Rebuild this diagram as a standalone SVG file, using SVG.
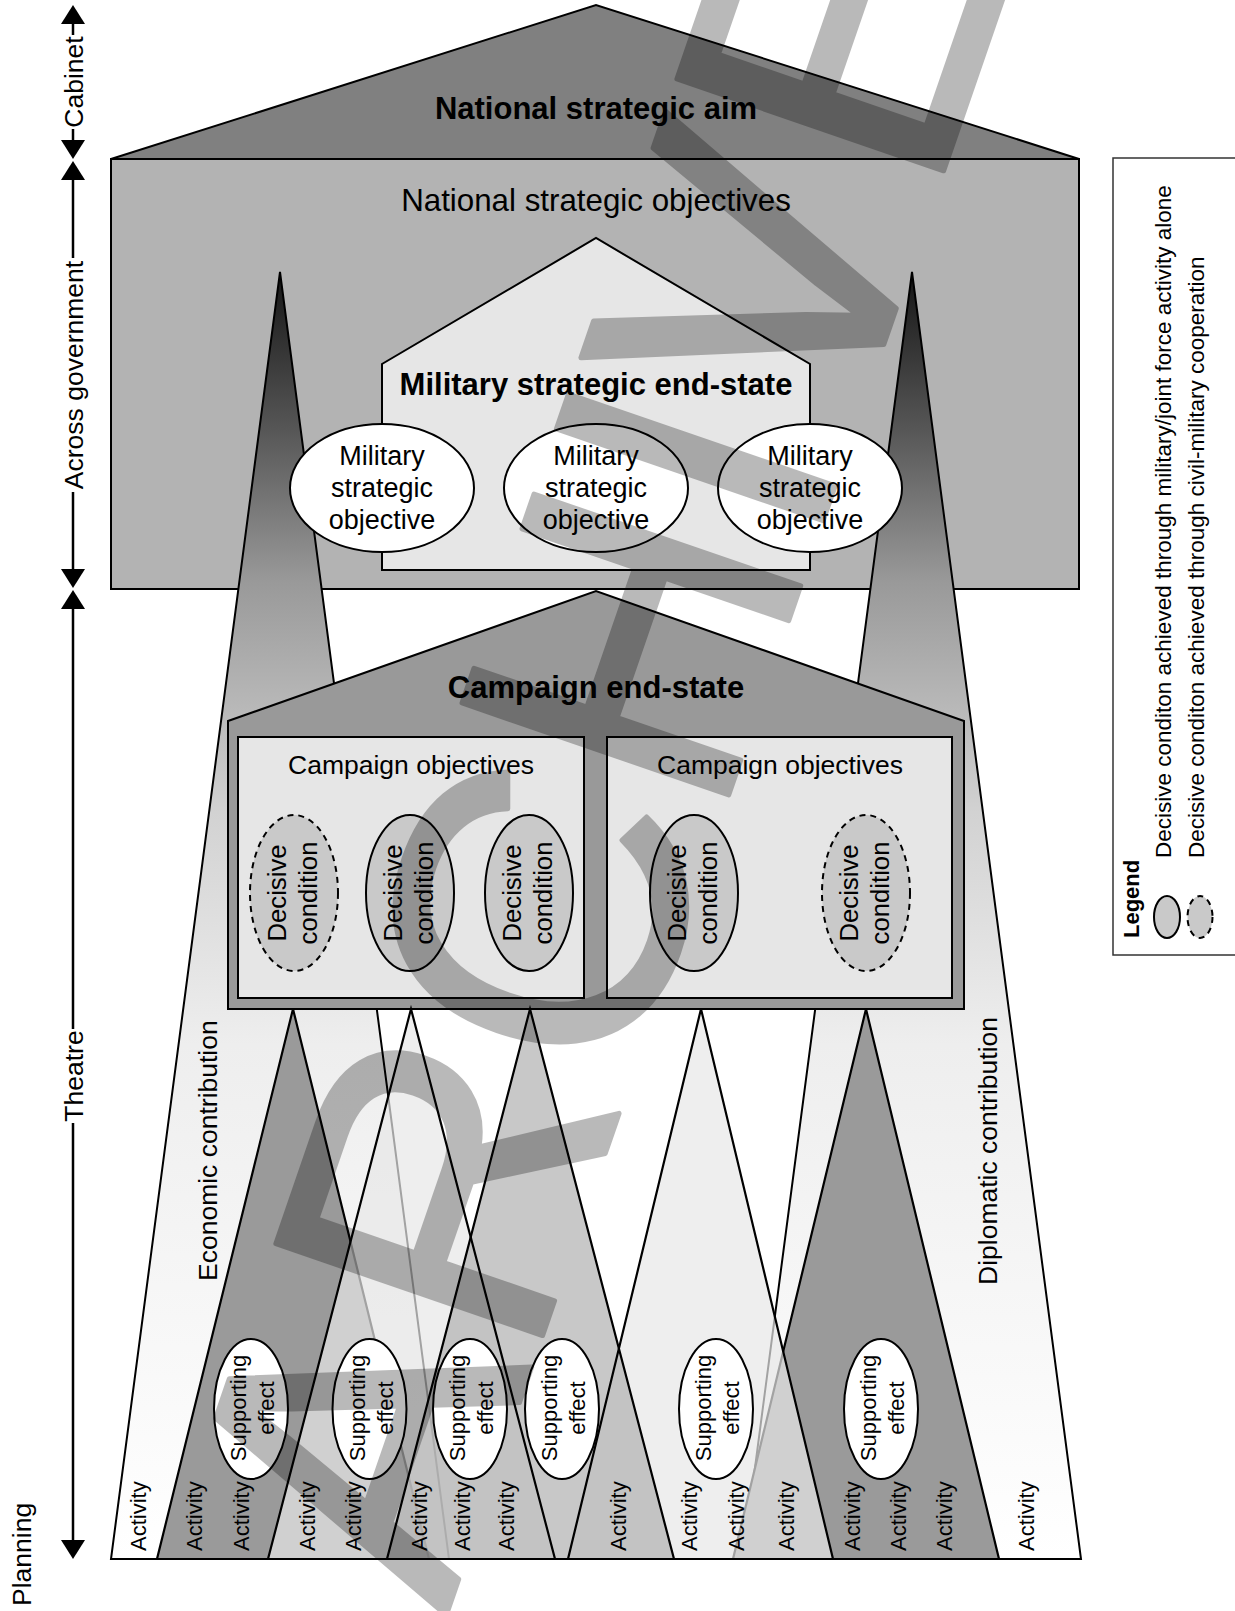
<svg xmlns="http://www.w3.org/2000/svg" width="1235" height="1611" viewBox="0 0 1235 1611">
<defs>
<style>
.t{font-family:"Liberation Sans",Arial,Helvetica,sans-serif;fill:#000}
.b{font-weight:bold}
.s{stroke:#000;stroke-width:2;stroke-linejoin:miter}
.ax{stroke:#000;stroke-width:2.5;fill:none}
.ah{fill:#000}
.w{fill:#fff}
.dc{fill:#c9c9c9;stroke:#000;stroke-width:2}
.dd{fill:#c9c9c9;stroke:#000;stroke-width:2;stroke-dasharray:6,5}
.a{font-size:22px}
.se{font-size:22px}
.d{font-size:25.7px}
.lab{font-size:26.5px}
.tri{stroke:#000;stroke-width:2.2}
.dark{fill:#9a9a9a}
.lite{fill:#e7e7e7;fill-opacity:0.7}
.mid{fill:#b0b0b0;fill-opacity:0.7}
.no{fill:none}
</style>
<linearGradient id="spk" gradientUnits="userSpaceOnUse" x1="0" y1="272" x2="0" y2="1559">
<stop offset="0" stop-color="#151515"/>
<stop offset="0.12" stop-color="#555555"/>
<stop offset="0.24" stop-color="#999999"/>
<stop offset="0.42" stop-color="#d2d2d2"/>
<stop offset="0.6" stop-color="#eeeeee"/>
<stop offset="1" stop-color="#ffffff"/>
</linearGradient>
</defs>
<rect x="0" y="0" width="1235" height="1611" fill="#fff"/>

<g id="national-house">
<polygon class="s" fill="#808080" points="111,159 596,5 1079,159"/>
<rect class="s" fill="#b3b3b3" x="111" y="159" width="968" height="430"/>
<text class="t b" x="596" y="119" font-size="31" text-anchor="middle">National strategic aim</text>
<text class="t" x="596" y="211" font-size="31.3" text-anchor="middle">National strategic objectives</text>
</g>

<g id="spikes">
<polygon class="s" fill="url(#spk)" points="280,272 449,1559 111,1559"/>
<polygon class="s" fill="url(#spk)" points="912,272 1081,1559 743,1559"/>
</g>

<g id="military-house">
<polygon class="s" fill="#e6e6e6" points="382,364 596,238 810,364 810,570 382,570"/>
<text class="t b" x="596" y="395" font-size="31" text-anchor="middle">Military strategic end-state</text>
</g>

<g id="mso1">
<ellipse class="s" fill="#fff" cx="382" cy="488" rx="92" ry="64"/>
<text class="t" font-size="27" text-anchor="middle"><tspan x="382" y="465">Military</tspan><tspan x="382" y="497">strategic</tspan><tspan x="382" y="529">objective</tspan></text>
</g>
<g id="mso2">
<ellipse class="s" fill="#fff" cx="596" cy="488" rx="92" ry="64"/>
<text class="t" font-size="27" text-anchor="middle"><tspan x="596" y="465">Military</tspan><tspan x="596" y="497">strategic</tspan><tspan x="596" y="529">objective</tspan></text>
</g>
<g id="mso3">
<ellipse class="s" fill="#fff" cx="810" cy="488" rx="92" ry="64"/>
<text class="t" font-size="27" text-anchor="middle"><tspan x="810" y="465">Military</tspan><tspan x="810" y="497">strategic</tspan><tspan x="810" y="529">objective</tspan></text>
</g>

<g id="campaign-house">
<polygon class="s" fill="#999999" points="228,721 596,591 964,721 964,1009 228,1009"/>
<text class="t b" x="596" y="698" font-size="31" text-anchor="middle">Campaign end-state</text>
</g>
<g id="campaign-objectives-1">
<rect class="s" fill="#e6e6e6" x="238" y="737" width="346" height="261"/>
<text class="t lab" x="411" y="774" text-anchor="middle">Campaign objectives</text>
</g>
<g id="campaign-objectives-2">
<rect class="s" fill="#e6e6e6" x="607" y="737" width="345" height="261"/>
<text class="t lab" x="780" y="774" text-anchor="middle">Campaign objectives</text>
</g>

<g id="dc1"><ellipse class="dd" cx="294" cy="893" rx="44" ry="78"/>
<text class="t d" transform="translate(294,893) rotate(-90)" text-anchor="middle"><tspan x="0" y="-8">Decisive</tspan><tspan x="0" y="23">condition</tspan></text></g>
<g id="dc2"><ellipse class="dc" cx="410" cy="893" rx="44" ry="78"/>
<text class="t d" transform="translate(410,893) rotate(-90)" text-anchor="middle"><tspan x="0" y="-8">Decisive</tspan><tspan x="0" y="23">condition</tspan></text></g>
<g id="dc3"><ellipse class="dc" cx="529" cy="893" rx="44" ry="78"/>
<text class="t d" transform="translate(529,893) rotate(-90)" text-anchor="middle"><tspan x="0" y="-8">Decisive</tspan><tspan x="0" y="23">condition</tspan></text></g>
<g id="dc4"><ellipse class="dc" cx="694" cy="893" rx="44" ry="78"/>
<text class="t d" transform="translate(694,893) rotate(-90)" text-anchor="middle"><tspan x="0" y="-8">Decisive</tspan><tspan x="0" y="23">condition</tspan></text></g>
<g id="dc5"><ellipse class="dd" cx="866" cy="893" rx="44" ry="78"/>
<text class="t d" transform="translate(866,893) rotate(-90)" text-anchor="middle"><tspan x="0" y="-8">Decisive</tspan><tspan x="0" y="23">condition</tspan></text></g>

<g id="effect-triangles">
<polygon class="tri dark" points="293,1009 429,1559 157,1559"/>
<polygon class="tri dark" points="866,1009 999,1559 733,1559"/>
<polygon class="lite" points="411,1009 555,1559 268,1559"/>
<polygon class="lite" points="701,1009 833,1559 568,1559"/>
<polygon class="mid" points="530,1009 674,1559 387,1559"/>
<polygon class="tri no" points="411,1009 555,1559 268,1559"/>
<polygon class="tri no" points="701,1009 833,1559 568,1559"/>
<polygon class="tri no" points="530,1009 674,1559 387,1559"/>
<line class="tri" x1="111" y1="1559" x2="1081" y2="1559"/>
</g>

<g id="contributions">
<text class="t lab" transform="translate(217,1281) rotate(-90)">Economic contribution</text>
<text class="t lab" transform="translate(997,1285) rotate(-90)">Diplomatic contribution</text>
</g>

<g id="se1"><ellipse class="s w" cx="251" cy="1409" rx="37" ry="70"/>
<text class="t se" transform="translate(251,1408) rotate(-90)" text-anchor="middle"><tspan x="0" y="-5">Supporting</tspan><tspan x="0" y="23">effect</tspan></text></g>
<g id="se2"><ellipse class="s w" cx="369.5" cy="1409" rx="37" ry="70"/>
<text class="t se" transform="translate(369.5,1408) rotate(-90)" text-anchor="middle"><tspan x="0" y="-5">Supporting</tspan><tspan x="0" y="23">effect</tspan></text></g>
<g id="se3"><ellipse class="s w" cx="470" cy="1409" rx="37" ry="70"/>
<text class="t se" transform="translate(470,1408) rotate(-90)" text-anchor="middle"><tspan x="0" y="-5">Supporting</tspan><tspan x="0" y="23">effect</tspan></text></g>
<g id="se4"><ellipse class="s w" cx="562" cy="1409" rx="37" ry="70"/>
<text class="t se" transform="translate(562,1408) rotate(-90)" text-anchor="middle"><tspan x="0" y="-5">Supporting</tspan><tspan x="0" y="23">effect</tspan></text></g>
<g id="se5"><ellipse class="s w" cx="716" cy="1409" rx="37" ry="70"/>
<text class="t se" transform="translate(716,1408) rotate(-90)" text-anchor="middle"><tspan x="0" y="-5">Supporting</tspan><tspan x="0" y="23">effect</tspan></text></g>
<g id="se6"><ellipse class="s w" cx="881" cy="1409" rx="37" ry="70"/>
<text class="t se" transform="translate(881,1408) rotate(-90)" text-anchor="middle"><tspan x="0" y="-5">Supporting</tspan><tspan x="0" y="23">effect</tspan></text></g>

<g id="activities" class="t a">
<text transform="translate(146,1551) rotate(-90)">Activity</text>
<text transform="translate(202,1551) rotate(-90)">Activity</text>
<text transform="translate(249,1551) rotate(-90)">Activity</text>
<text transform="translate(315,1551) rotate(-90)">Activity</text>
<text transform="translate(361,1551) rotate(-90)">Activity</text>
<text transform="translate(427,1551) rotate(-90)">Activity</text>
<text transform="translate(470,1551) rotate(-90)">Activity</text>
<text transform="translate(514,1551) rotate(-90)">Activity</text>
<text transform="translate(626,1551) rotate(-90)">Activity</text>
<text transform="translate(697,1551) rotate(-90)">Activity</text>
<text transform="translate(744,1551) rotate(-90)">Activity</text>
<text transform="translate(794,1551) rotate(-90)">Activity</text>
<text transform="translate(860,1551) rotate(-90)">Activity</text>
<text transform="translate(906,1551) rotate(-90)">Activity</text>
<text transform="translate(952,1551) rotate(-90)">Activity</text>
<text transform="translate(1034,1551) rotate(-90)">Activity</text>
</g>

<g id="axis">
<line class="ax" x1="73" y1="22" x2="73" y2="35"/>
<line class="ax" x1="73" y1="129" x2="73" y2="142"/>
<line class="ax" x1="73" y1="178" x2="73" y2="258"/>
<line class="ax" x1="73" y1="492" x2="73" y2="571"/>
<line class="ax" x1="73" y1="607" x2="73" y2="1029"/>
<line class="ax" x1="73" y1="1123" x2="73" y2="1542"/>
<polygon class="ah" points="73,5 61,24 85,24"/>
<polygon class="ah" points="73,159 61,140 85,140"/>
<polygon class="ah" points="73,161 61,180 85,180"/>
<polygon class="ah" points="73,588 61,569 85,569"/>
<polygon class="ah" points="73,590 61,609 85,609"/>
<polygon class="ah" points="73,1559 61,1540 85,1540"/>
<text class="t lab" transform="translate(83,82) rotate(-90)" text-anchor="middle">Cabinet</text>
<text class="t lab" transform="translate(83,375) rotate(-90)" text-anchor="middle">Across government</text>
<text class="t lab" transform="translate(83,1076) rotate(-90)" text-anchor="middle">Theatre</text>
<text class="t lab" transform="translate(31,1606) rotate(-90)">Planning</text>
</g>

<g id="legend">
<rect x="1113" y="158" width="130" height="797" fill="none" stroke="#333" stroke-width="1.5"/>
<text class="t b" font-size="22" transform="translate(1139,938) rotate(-90)">Legend</text>
<ellipse class="dc" cx="1167" cy="917" rx="13" ry="21"/>
<ellipse class="dd" cx="1200" cy="917" rx="12.5" ry="21" stroke-dasharray="5,4"/>
<text class="t" font-size="22.5" transform="translate(1171,858) rotate(-90)">Decisive conditon achieved through military/joint force activity alone</text>
<text class="t" font-size="22.5" transform="translate(1204,858) rotate(-90)">Decisive conditon achieved through civil-military cooperation</text>
</g>

<g id="watermark" opacity="0.27">
<text transform="translate(446,1616) rotate(-71)" font-family="Liberation Sans, Arial, sans-serif" font-size="410" textLength="1760" lengthAdjust="spacingAndGlyphs" fill="#000" stroke="#000" stroke-width="5" stroke-linejoin="round">ARCHIVE</text>
</g>
</svg>
